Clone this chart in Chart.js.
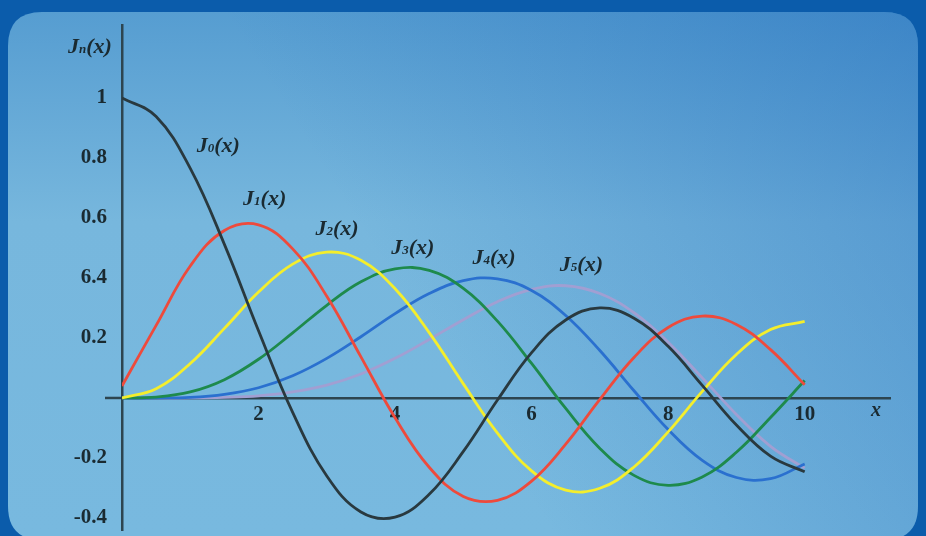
<!DOCTYPE html>
<html>
<head>
<meta charset="utf-8">
<title>Bessel functions</title>
<script src="https://cdn.jsdelivr.net/npm/chart.js@4/dist/chart.umd.min.js"></script>
<style>
  html, body { margin: 0; padding: 0; background: #0b5cab; overflow: hidden; }
  #besselChart { display: block; }
</style>
</head>
<body>
<canvas id="besselChart" width="926" height="536"></canvas>
<script>
// sample points along x
var xs = [0, 0.5, 1, 1.5, 2, 2.5, 3, 3.5, 4, 4.5, 5, 5.5, 6, 6.5, 7, 7.5, 8, 8.5, 9, 9.5, 10];

var j0 = [1.0, 0.938, 0.765, 0.512, 0.224, -0.048, -0.260, -0.380, -0.397, -0.321, -0.178, -0.007, 0.151, 0.260, 0.300, 0.266, 0.172, 0.042, -0.090, -0.194, -0.246];
var j1 = [0.04, 0.242, 0.440, 0.558, 0.577, 0.497, 0.339, 0.137, -0.066, -0.231, -0.328, -0.341, -0.277, -0.154, -0.005, 0.135, 0.235, 0.273, 0.245, 0.161, 0.044];
var j2 = [0, 0.031, 0.115, 0.232, 0.353, 0.446, 0.486, 0.459, 0.364, 0.218, 0.047, -0.117, -0.243, -0.307, -0.301, -0.230, -0.113, 0.022, 0.145, 0.228, 0.255];
var j3 = [0, 0.003, 0.020, 0.061, 0.129, 0.217, 0.309, 0.387, 0.430, 0.425, 0.365, 0.256, 0.115, -0.035, -0.168, -0.258, -0.291, -0.263, -0.181, -0.065, 0.058];
var j4 = [0, 0.000, 0.002, 0.012, 0.034, 0.074, 0.132, 0.204, 0.281, 0.348, 0.391, 0.397, 0.358, 0.275, 0.158, 0.024, -0.105, -0.208, -0.265, -0.269, -0.220];
var j5 = [0, 0.000, 0.000, 0.002, 0.007, 0.020, 0.043, 0.080, 0.132, 0.195, 0.261, 0.321, 0.362, 0.374, 0.348, 0.284, 0.186, 0.067, -0.055, -0.161, -0.234];

var seriesNames = ['0', '1', '2', '3', '4', '5'];
var seriesColors = ['#29393f', '#ee4a3c', '#f4ee2c', '#1e8a4c', '#2a70cf', '#a19fd2'];

// where each curve's name sits, in axis units
var nameX = [1.41, 2.09, 3.15, 4.26, 5.45, 6.73];
var nameY = [0.84, 0.663, 0.563, 0.50, 0.467, 0.443];

var xTicks = [2, 4, 6, 8, 10];
var yTicks = [1, 0.8, 0.6, 0.4, 0.2, -0.2, -0.4];
var yTickLabels = ['1', '0.8', '0.6', '6.4', '0.2', '-0.2', '-0.4'];

function pairs(ys) {
  return xs.map(function (x, i) { return { x: x, y: ys[i] }; });
}

var allSeries = [j0, j1, j2, j3, j4, j5];
var datasets = allSeries.map(function (ys, i) {
  return {
    label: 'J' + seriesNames[i] + '(x)',
    data: pairs(ys),
    borderColor: seriesColors[i],
    borderWidth: 2.8,
    pointRadius: 0,
    tension: 0.4,
    fill: false
  };
});

function roundRect(c, x, y, w, h, r) {
  c.beginPath();
  c.moveTo(x + r, y);
  c.lineTo(x + w - r, y);
  c.quadraticCurveTo(x + w, y, x + w, y + r);
  c.lineTo(x + w, y + h - r);
  c.quadraticCurveTo(x + w, y + h, x + w - r, y + h);
  c.lineTo(x + r, y + h);
  c.quadraticCurveTo(x, y + h, x, y + h - r);
  c.lineTo(x, y + r);
  c.quadraticCurveTo(x, y, x + r, y);
  c.closePath();
}

// blue frame with a lighter rounded panel behind the plot
var panelPlugin = {
  id: 'panel',
  beforeDraw: function (chart) {
    var c = chart.ctx;
    var w = chart.width, h = chart.height;
    c.save();
    c.fillStyle = '#0b5cab';
    c.fillRect(0, 0, w, h);
    roundRect(c, 8, 12, w - 16, 528, 34);
    var g = c.createLinearGradient(0, 12, 0, h);
    g.addColorStop(0, '#569dd1');
    g.addColorStop(0.4, '#77b7dd');
    g.addColorStop(1, '#78b9df');
    c.fillStyle = g;
    c.fill();
    // darker wash towards the upper right
    var g2 = c.createLinearGradient(w, 0, w * 0.45, h * 0.6);
    g2.addColorStop(0, 'rgba(25, 100, 185, 0.42)');
    g2.addColorStop(1, 'rgba(25, 100, 185, 0)');
    c.fillStyle = g2;
    c.fill();
    c.restore();
  }
};

function drawName(c, sub, cx, cy) {
  var big = 'italic bold 22px "Liberation Serif", serif';
  var small = 'italic bold 13px "Liberation Serif", serif';
  c.font = big;
  var wJ = c.measureText('J').width;
  var wX = c.measureText('(x)').width;
  c.font = small;
  var wS = c.measureText(sub).width;
  var x = cx - (wJ + wS + wX) / 2;
  c.textBaseline = 'middle';
  c.textAlign = 'left';
  c.font = big;
  c.fillText('J', x, cy);
  c.font = small;
  c.fillText(sub, x + wJ, cy + 3);
  c.font = big;
  c.fillText('(x)', x + wJ + wS, cy);
}

var labelPlugin = {
  id: 'curveNames',
  afterDraw: function (chart) {
    var c = chart.ctx;
    var sx = chart.scales.x, sy = chart.scales.y;
    var x0 = sx.getPixelForValue(0), y0 = sy.getPixelForValue(0);
    c.save();
    // x axis runs a little past the y axis on the left
    c.strokeStyle = '#2d4550';
    c.lineWidth = 2.5;
    c.beginPath();
    c.moveTo(x0 - 17, y0);
    c.lineTo(x0, y0);
    c.stroke();
    c.fillStyle = '#1a2a31';
    for (var i = 0; i < seriesNames.length; i++) {
      drawName(c, seriesNames[i], sx.getPixelForValue(nameX[i]), sy.getPixelForValue(nameY[i]));
    }
    // axis names
    drawName(c, 'n', x0 - 32, chart.chartArea.top + 22);
    c.font = 'italic bold 20px "Liberation Serif", serif';
    c.textAlign = 'center';
    c.textBaseline = 'middle';
    c.fillText('x', chart.chartArea.right - 14, y0 + 13);
    c.restore();
  }
};

var tickFont = { family: '"Liberation Serif", serif', size: 21, weight: 'bold' };

var ctx = document.getElementById('besselChart').getContext('2d');

var besselChart = new Chart(ctx, {
  type: 'line',
  data: { datasets: datasets },
  options: {
    responsive: false,
    animation: false,
    layout: { padding: { left: 52, right: 36, top: 25, bottom: 6 } },
    plugins: {
      legend: { display: false },
      tooltip: { enabled: false }
    },
    scales: {
      x: {
        type: 'linear',
        min: 0,
        max: 11.25,
        position: { y: 0 },
        grid: { display: false, drawTicks: false },
        border: { display: true, color: '#2d4550', width: 2.5 },
        afterBuildTicks: function (axis) {
          axis.ticks = xTicks.map(function (v) { return { value: v }; });
        },
        ticks: { padding: 4, color: '#1a2a31', font: tickFont }
      },
      y: {
        type: 'linear',
        min: -0.44,
        max: 1.243,
        position: 'left',
        // gap between labels and axis comes from the (hidden) tick length
        grid: { display: false, drawTicks: true, tickLength: 15 },
        border: { display: true, color: '#2d4550', width: 2.5 },
        afterFit: function (axis) {
          axis.width = 70;
          axis.paddingTop = 0;
          axis.paddingBottom = 0;
        },
        afterBuildTicks: function (axis) {
          axis.ticks = yTicks.map(function (v) { return { value: v }; });
        },
        ticks: {
          padding: 0,
          color: '#1a2a31',
          font: tickFont,
          callback: function (value) {
            var k = yTicks.indexOf(value);
            return k >= 0 ? yTickLabels[k] : '';
          }
        }
      }
    }
  },
  plugins: [panelPlugin, labelPlugin]
});
</script>
</body>
</html>
